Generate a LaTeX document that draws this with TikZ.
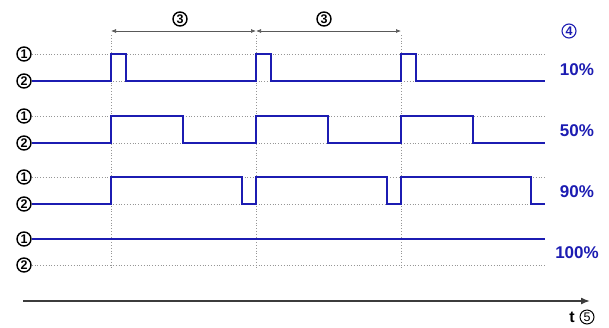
\documentclass[tikz,border=0pt]{standalone}
\usepackage{fontspec}
\setmainfont{Liberation Sans}
\usetikzlibrary{arrows.meta,calc}
\definecolor{sig}{RGB}{28,28,178}
\definecolor{gridc}{RGB}{150,150,150}
\definecolor{axisc}{RGB}{60,60,60}

\begin{document}
\begin{tikzpicture}[x=1pt,y=-1pt,
  circ/.style={circle,draw=black,line width=1.4pt,inner sep=0pt,minimum size=14pt,
    font=\bfseries\fontsize{12.5}{12.5}\selectfont},
  bluecirc/.style={circ,draw=sig,text=sig,line width=1.1pt},
  thincirc/.style={circ,line width=1pt,font=\fontsize{12.5}{12.5}\selectfont},
  wave/.style={draw=sig,line width=2.5pt,line join=miter},
  gridline/.style={draw=gridc,dotted,line width=0.8pt},
  pct/.style={text=sig,font=\bfseries\fontsize{17}{17}\selectfont},
  dimarrow/.style={draw=gray!70!black,line width=0.7pt,
    {Latex[length=5pt,width=4pt]}-{Latex[length=5pt,width=4pt]}},
  taxis/.style={draw=axisc,line width=1.6pt,-{Latex[length=9pt,width=7pt]}}
]
\useasboundingbox (0,0) rectangle (609,327);

% level markers: 1 = high, 2 = low, for each of the four duty cycles
\foreach \i/\hy/\ly in {1/54/81, 2/116/143, 3/177/204, 4/239/265} {
  \node[circ] (h\i) at (24,\hy) {1};
  \node[circ] (l\i) at (24,\ly) {2};
  \coordinate (he\i) at (545,\hy);
  \coordinate (le\i) at (545,\ly);
  \draw[gridline] (h\i.east) -- (he\i);
  \draw[gridline] (l\i.east) -- (le\i);
}

% period boundaries
\coordinate (p1) at (111,31);
\coordinate (p2) at (256,31);
\coordinate (p3) at (401,31);
\foreach \k in {1,2,3} {
  \coordinate (pb\k) at ($(p\k)+(0,239)$);
  \draw[gridline] ([yshift=-4pt]p\k) -- (pb\k);
}

% period dimension
\draw[dimarrow] (p1) -- (p2);
\draw[dimarrow] (p2) -- (p3);
\node[circ] (per1) at (180,19) {3};
\node[circ] (per2) at (324,19) {3};

% duty cycle header
\node[bluecirc] (duty) at (569,31) {4};

% 10 %
\draw[wave] (l1.east) -- (111,81) -- (111,54) -- (126,54) -- (126,81)
  -- (256,81) -- (256,54) -- (271,54) -- (271,81)
  -- (401,81) -- (401,54) -- (416,54) -- (416,81) -- (le1);
% 50 %
\draw[wave] (l2.east) -- (111,143) -- (111,116) -- (183,116) -- (183,143)
  -- (256,143) -- (256,116) -- (328,116) -- (328,143)
  -- (401,143) -- (401,116) -- (473,116) -- (473,143) -- (le2);
% 90 %
\draw[wave] (l3.east) -- (111,204) -- (111,177) -- (242,177) -- (242,204)
  -- (256,204) -- (256,177) -- (387,177) -- (387,204)
  -- (401,204) -- (401,177) -- (531,177) -- (531,204) -- (le3);
% 100 %
\draw[wave] (h4.east) -- (he4);

\node[pct] (d10) at (577,70) {10\%};
\node[pct] (d50) at (577,131) {50\%};
\node[pct] (d90) at (577,192) {90\%};
\node[pct] (d100) at (577,253) {100\%};

% time axis
\coordinate (t0) at (23,301);
\coordinate (t1) at (590,301);
\draw[taxis] (t0) -- (t1);
\node[font=\bfseries\fontsize{16}{16}\selectfont] (tl) at (572,317) {t};
\node[thincirc] (tn) at (587,317) {5};
\end{tikzpicture}
\end{document}
